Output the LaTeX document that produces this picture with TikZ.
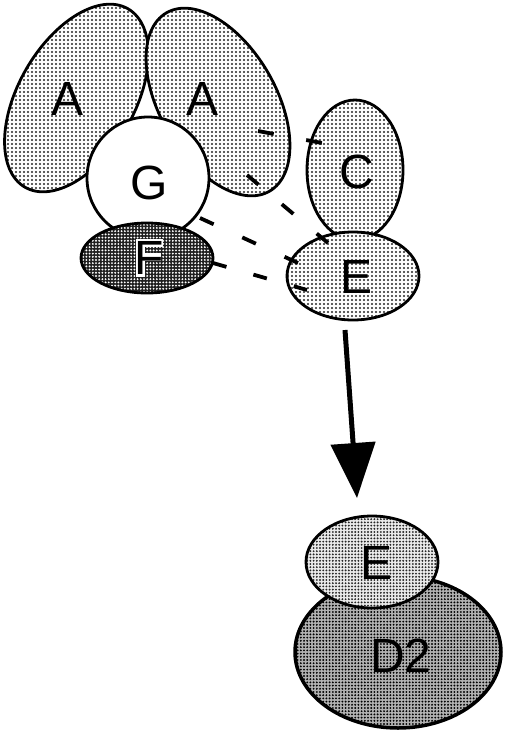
\documentclass[tikz,border=0pt]{standalone}
\usepackage{fontspec}
\setmainfont{Liberation Sans}
\usetikzlibrary{shapes.geometric,arrows.meta,patterns}
\pgfdeclarepatternformonly{lightdots}{\pgfqpoint{-1.2pt}{-1.2pt}}{\pgfqpoint{1.2pt}{1.2pt}}{\pgfqpoint{4pt}{4pt}}{\pgfpathcircle{\pgfqpoint{0pt}{0pt}}{1.05pt}\pgfusepath{fill}}
\pgfdeclarepatternformonly{densedots}{\pgfqpoint{-1.2pt}{-1.2pt}}{\pgfqpoint{1.2pt}{1.2pt}}{\pgfqpoint{3.2pt}{3.2pt}}{\pgfpathcircle{\pgfqpoint{0pt}{0pt}}{1.05pt}\pgfusepath{fill}}
\begin{document}
\begin{tikzpicture}[x=1pt,y=-1pt,
  blob/.style={ellipse, draw=black, line width=2.8pt, inner sep=0pt},
  lightfill/.style={preaction={fill=white}, pattern=lightdots, pattern color=black!85},
  midfill/.style={preaction={fill=black!8}, pattern=densedots, pattern color=black!85},
  darkfill/.style={preaction={fill=black!88}, pattern=densedots, pattern color=white},
  d2fill/.style={preaction={fill=black!30}, pattern=densedots, pattern color=black},
  lab/.style={font=\fontsize{48}{48}\selectfont, inner sep=0pt},
  dashlink/.style={line width=3.8pt}
]
\useasboundingbox (0,0) rectangle (520,740);

% top complex
\node[blob, lightfill, minimum width=116pt, minimum height=206pt, rotate=-30] (A1) at (76.5,98) {};
\node[blob, lightfill, minimum width=116pt, minimum height=206pt, rotate=30] (A2) at (218,102) {};
\node[blob, fill=white, minimum width=122pt, minimum height=122pt] (G) at (148,178) {};
\node[blob, darkfill, minimum width=132pt, minimum height=70pt] (F) at (147,258) {};
\node[blob, lightfill, minimum width=96pt, minimum height=140pt] (C) at (355,170) {};
\node[blob, lightfill, minimum width=132pt, minimum height=88pt] (E1) at (353,276) {};

% labels
\node[lab] (A1l) at (68,99) {A};
\node[lab] (A2l) at (203,99) {A};
\node[lab] (Gl) at (149,183) {G};
% white outline behind the F
\filldraw[white, line width=4pt, line join=miter]
  (138.2,275.2) -- (138.2,240.8) -- (161.1,240.8) -- (161.1,244.9) -- (142.8,244.9)
  -- (142.8,255.0) -- (158.6,255.0) -- (158.6,259.0) -- (142.8,259.0) -- (142.8,275.2) -- cycle;
\node[lab, text=black] (Fl) at (149,258) {F};
\node[lab] (Cl) at (357,172) {C};
\node[lab] (E1l) at (357,277) {E};

% dashed contacts
\coordinate (d1a) at (258,131); \coordinate (d1b) at (322,143);
\coordinate (d2a) at (247,175); \coordinate (d2b) at (328,243);
\coordinate (d3a) at (200,218); \coordinate (d3b) at (298,263);
\coordinate (d4a) at (213,263); \coordinate (d4b) at (307,290);
\draw[dashlink, dash pattern=on 16pt off 33pt] (d1a) -- (d1b);
\draw[dashlink, dash pattern=on 15pt off 30.5pt] (d2a) -- (d2b);
\draw[dashlink, dash pattern=on 15pt off 31.5pt] (d3a) -- (d3b);
\draw[dashlink, dash pattern=on 14pt off 28pt] (d4a) -- (d4b);

% arrow
\coordinate (arrS) at (345,330);
\coordinate (arrT) at (357,498);
\draw[line width=5pt, -{Triangle[length=55pt,width=44pt]}] (arrS) -- (arrT);

% bottom complex
\node[blob, d2fill, line width=3.5pt, minimum width=206pt, minimum height=152pt] (D2) at (398,652) {};
\node[blob, midfill, minimum width=132pt, minimum height=92pt] (E2) at (372,562) {};
\node[lab] (E2l) at (377,563) {E};
\node[lab] (D2l) at (401,656) {D2};
\end{tikzpicture}
\end{document}
